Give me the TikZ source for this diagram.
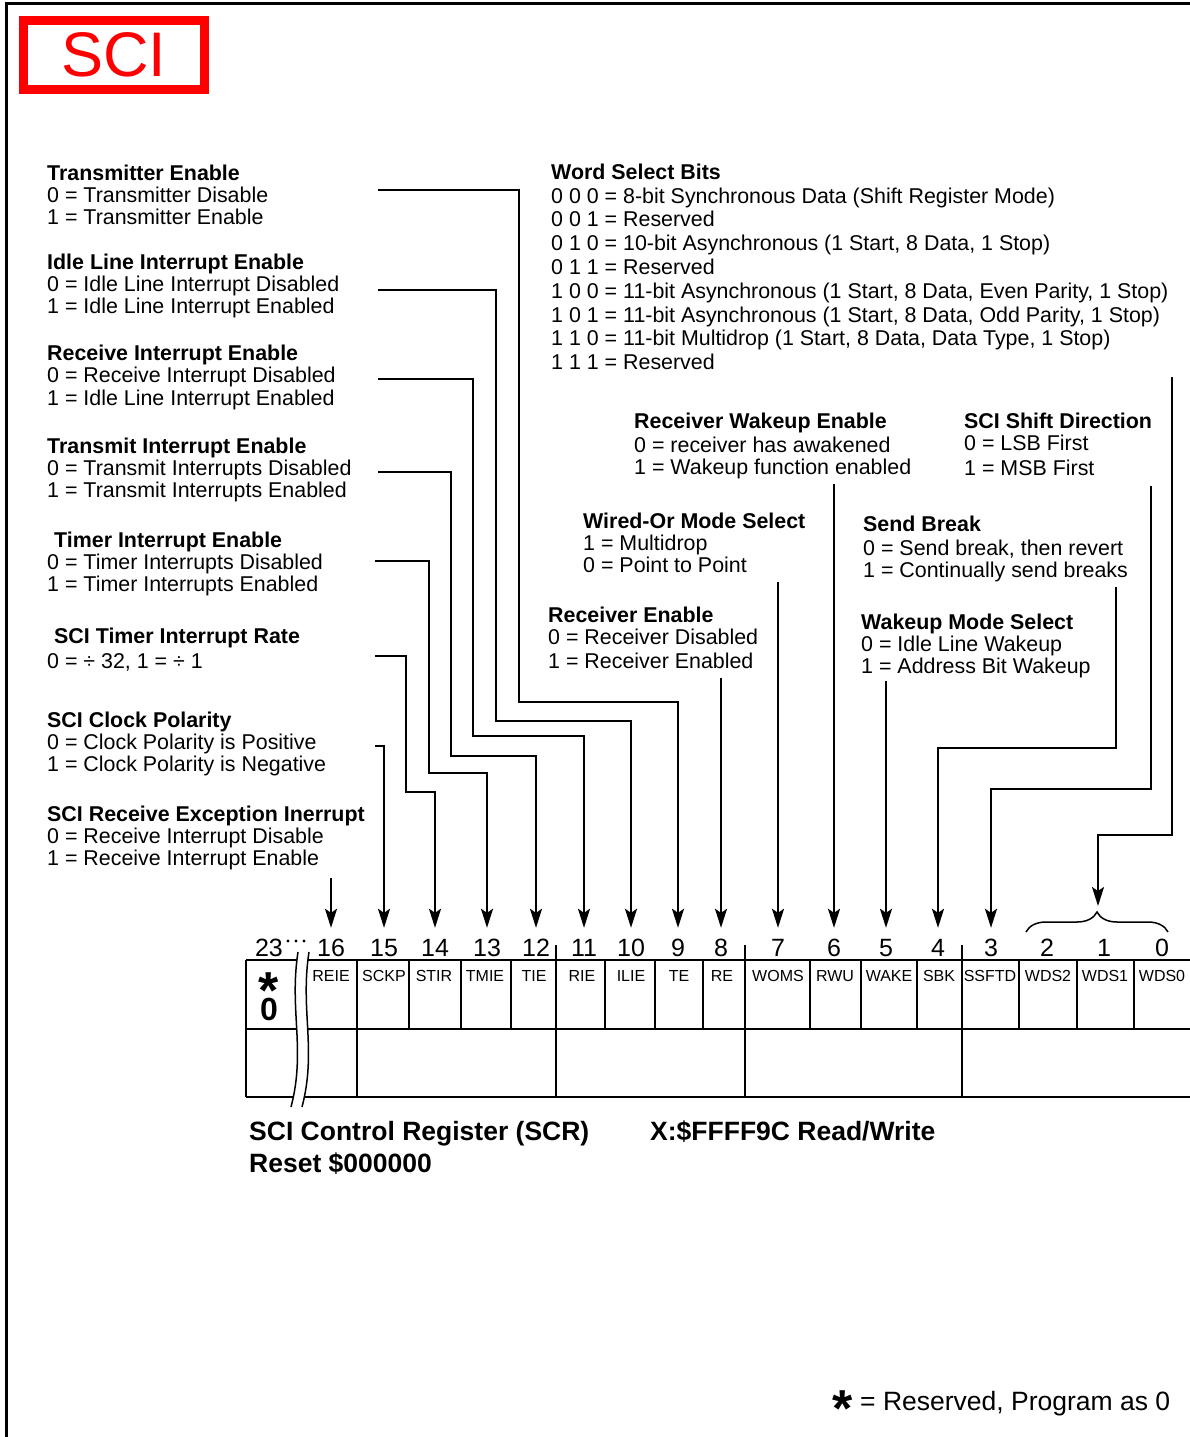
\documentclass[tikz,border=0pt]{standalone}
\usepackage{fontspec}
\setmainfont{Liberation Sans}
\usetikzlibrary{arrows.meta,decorations.pathreplacing}

\begin{document}
\begin{tikzpicture}[x=1pt,y=-1pt]
    \tikzset{
      wire/.style={line width=2pt},
      feed/.style={wire,-{Stealth[length=19pt,width=12pt,inset=4pt]}},
      desc/.style={anchor=north west,inner sep=0pt,align=left,font=\fontsize{21.4}{22}\selectfont},
      bitnum/.style={font=\fontsize{25}{25}\selectfont,inner xsep=0pt,inner ysep=10pt,text height=18pt,text depth=0pt},
      cell/.style={font=\fontsize{16}{16}\selectfont,inner sep=0pt},
      reg/.style={line width=2.2pt},
      foot/.style={anchor=base west,inner sep=0pt,font=\fontsize{26.5}{28}\selectfont\bfseries},
      starmark/.style={inner sep=0pt,font=\fontsize{52}{52}\selectfont\bfseries}
    }
    \useasboundingbox (0,0) rectangle (1190,1437);
    \draw[line width=3pt] (6.2,1437) -- (6.2,3.3) -- (1190,3.3);
    \node[draw=red,line width=9pt,minimum width=181pt,minimum height=69pt,inner sep=0pt,
          text=red,font=\fontsize{63}{63}\selectfont] (title) at (114,55) {SCI};

    % field descriptions, left column
    \node[desc] (te) at (47,164.5) {\textbf{Transmitter Enable}\\0 = Transmitter Disable\\1 = Transmitter Enable};
    \node[desc] (ilie) at (47,253.5) {\textbf{Idle Line Interrupt Enable}\\0 = Idle Line Interrupt Disabled\\1 = Idle Line Interrupt Enabled};
    \node[desc] (rie) at (47,344.5) {\textbf{Receive Interrupt Enable}\\0 = Receive Interrupt Disabled\\[1pt]1 = Idle Line Interrupt Enabled};
    \node[desc] (tie) at (47,437.5) {\textbf{Transmit Interrupt Enable}\\0 = Transmit Interrupts Disabled\\1 = Transmit Interrupts Enabled};
    \node[desc] (tmie) at (47,531.5) {\hspace*{7pt}\textbf{Timer Interrupt Enable}\\0 = Timer Interrupts Disabled\\1 = Timer Interrupts Enabled};
    \node[desc] (stir) at (47,627.5) {\hspace*{7pt}\textbf{SCI Timer Interrupt Rate}\\[3pt]0 = ÷ 32, 1 = ÷ 1};
    \node[desc] (sckp) at (47,711.5) {\textbf{SCI Clock Polarity}\\0 = Clock Polarity is Positive\\1 = Clock Polarity is Negative};
    \node[desc] (reie) at (47,805.5) {\textbf{SCI Receive Exception Inerrupt}\\0 = Receive Interrupt Disable\\1 = Receive Interrupt Enable};

    % field descriptions, right side
    \node[desc,font=\fontsize{21.4}{23.8}\selectfont] (wds) at (551,163.5) {\textbf{Word Select Bits}\\
      0 0 0 = 8-bit Synchronous Data (Shift Register Mode)\\
      0 0 1 = Reserved\\
      0 1 0 = 10-bit Asynchronous (1 Start, 8 Data, 1 Stop)\\
      0 1 1 = Reserved\\
      1 0 0 = 11-bit Asynchronous (1 Start, 8 Data, Even Parity, 1 Stop)\\
      1 0 1 = 11-bit Asynchronous (1 Start, 8 Data, Odd Parity, 1 Stop)\\
      1 1 0 = 11-bit Multidrop (1 Start, 8 Data, Data Type, 1 Stop)\\
      1 1 1 = Reserved};
    \node[desc] (rwu) at (634,412.5) {\textbf{Receiver Wakeup Enable}\\[2pt]0 = receiver has awakened\\1 = Wakeup function enabled};
    \node[desc] (ssftd) at (964,412.5) {\textbf{SCI Shift Direction}\\0 = LSB First\\[3pt]1 = MSB First};
    \node[desc] (woms) at (583,512.5) {\textbf{Wired-Or Mode Select}\\1 = Multidrop\\0 = Point to Point};
    \node[desc] (sbk) at (863,515.5) {\textbf{Send Break}\\[2pt]0 = Send break, then revert\\1 = Continually send breaks};
    \node[desc] (re) at (548,606.5) {\textbf{Receiver Enable}\\0 = Receiver Disabled\\[2pt]1 = Receiver Enabled};
    \node[desc] (wake) at (861,613.5) {\textbf{Wakeup Mode Select}\\0 = Idle Line Wakeup\\1 = Address Bit Wakeup};

    % register
    \draw[reg] (246,960) -- (1190,960) (246,1029) -- (1190,1029) (246,1097) -- (1190,1097);
    \draw[reg] (246,960) -- (246,1097);
    \draw[reg] (357,960) -- (357,1097);
    \foreach \x in {409,461,511,605,655,703,810,861,917,1019,1077,1134}
      \draw[reg] (\x,960) -- (\x,1029);
    \foreach \x in {556,745,962}
      \draw[reg] (\x,945) -- (\x,1097);
    \fill[white] (298,952) .. controls (289,1010) and (306,1050) .. (291,1107)
      -- (302,1107) .. controls (317,1050) and (300,1010) .. (309,952) -- cycle;
    \draw[line width=1.5pt] (298,952) .. controls (289,1010) and (306,1050) .. (291,1107);
    \draw[line width=1.5pt] (309,952) .. controls (300,1010) and (317,1050) .. (302,1107);

    \node[starmark] (rsv) at (269,978) {\raisebox{-30pt}[8pt][8pt]{*}};
    \node[inner sep=0pt,font=\fontsize{32}{32}\selectfont\bfseries] (zero) at (269,1009) {0};
    \foreach \x/\t in {331/REIE,384/SCKP,434/STIR,485/TMIE,534/TIE,582/RIE,631/ILIE,679/TE,722/RE,
                       778/WOMS,835/RWU,889/WAKE,939/SBK,990/SSFTD,1048/WDS2,1105/WDS1,1162/WDS0}
      \node[cell] (f\t) at (\x,976) {\t};

    % bit numbers
    \node[bitnum] (b23) at (269,947) {23};
    \foreach \x in {288,296,304} \fill (\x,941) circle (1.6pt);
    \foreach \x/\n in {331/16,384/15,435/14,487/13,536/12,584/11,631/10,678/9,721/8,
                       778/7,834/6,886/5,938/4,991/3,1047/2,1104/1,1162/0}
      \node[bitnum] (b\n) at (\x,947) {\n};
    \draw[line width=1.5pt,decorate,decoration={brace,amplitude=20pt}] (1026,932) -- (1168,932);
    \coordinate (brtip) at (1098,906);

    % connectors, left column
    \coordinate (te0) at (378,190);
    \coordinate (ilie0) at (378,290);
    \coordinate (rie0) at (378,379);
    \coordinate (tie0) at (378,472);
    \coordinate (tmie0) at (375,561);
    \coordinate (stir0) at (375,656);
    \coordinate (sckp0) at (375,746);
    \coordinate (reie0) at (b16.north |- 0,878);
    \draw[feed] (te0) -| (519,702) -| (b9.north);
    \draw[feed] (ilie0) -| (496,721) -| (b10.north);
    \draw[feed] (rie0) -| (473,736) -| (b11.north);
    \draw[feed] (tie0) -| (451,756) -| (b12.north);
    \draw[feed] (tmie0) -| (429,773) -| (b13.north);
    \draw[feed] (stir0) -| (406,792) -| (b14.north);
    \draw[feed] (sckp0) -| (b15.north);
    \draw[feed] (reie0) -- (b16.north);

    % connectors, right side
    \coordinate (re0) at (b8.north |- 0,678);
    \coordinate (woms0) at (b7.north |- 0,582);
    \coordinate (rwu0) at (b6.north |- 0,484);
    \coordinate (wake0) at (b5.north |- 0,681);
    \coordinate (sbk0) at (1116,587);
    \coordinate (ssftd0) at (1151,486);
    \coordinate (wds0) at (1172,377);
    \draw[feed] (re0) -- (b8.north);
    \draw[feed] (woms0) -- (b7.north);
    \draw[feed] (rwu0) -- (b6.north);
    \draw[feed] (wake0) -- (b5.north);
    \draw[feed] (sbk0) -- (1116,748) -| (b4.north);
    \draw[feed] (ssftd0) -- (1151,789) -| (b3.north);
    \draw[feed] (wds0) -- (1172,835) -| (brtip);

    % footer
    \node[foot] (regname) at (249,1140.5) {SCI Control Register (SCR)};
    \node[foot] (addr) at (650,1140.5) {X:\$FFFF9C Read/Write};
    \node[foot] (reset) at (249,1172.5) {Reset \$000000};
    \node[starmark] (star) at (843,1396) {\raisebox{-30pt}[8pt][8pt]{*}};
    \node[anchor=base west,inner sep=0pt,font=\fontsize{26.5}{26.5}\selectfont] (note) at (860,1410) {= Reserved, Program as 0};
\end{tikzpicture}
\end{document}
